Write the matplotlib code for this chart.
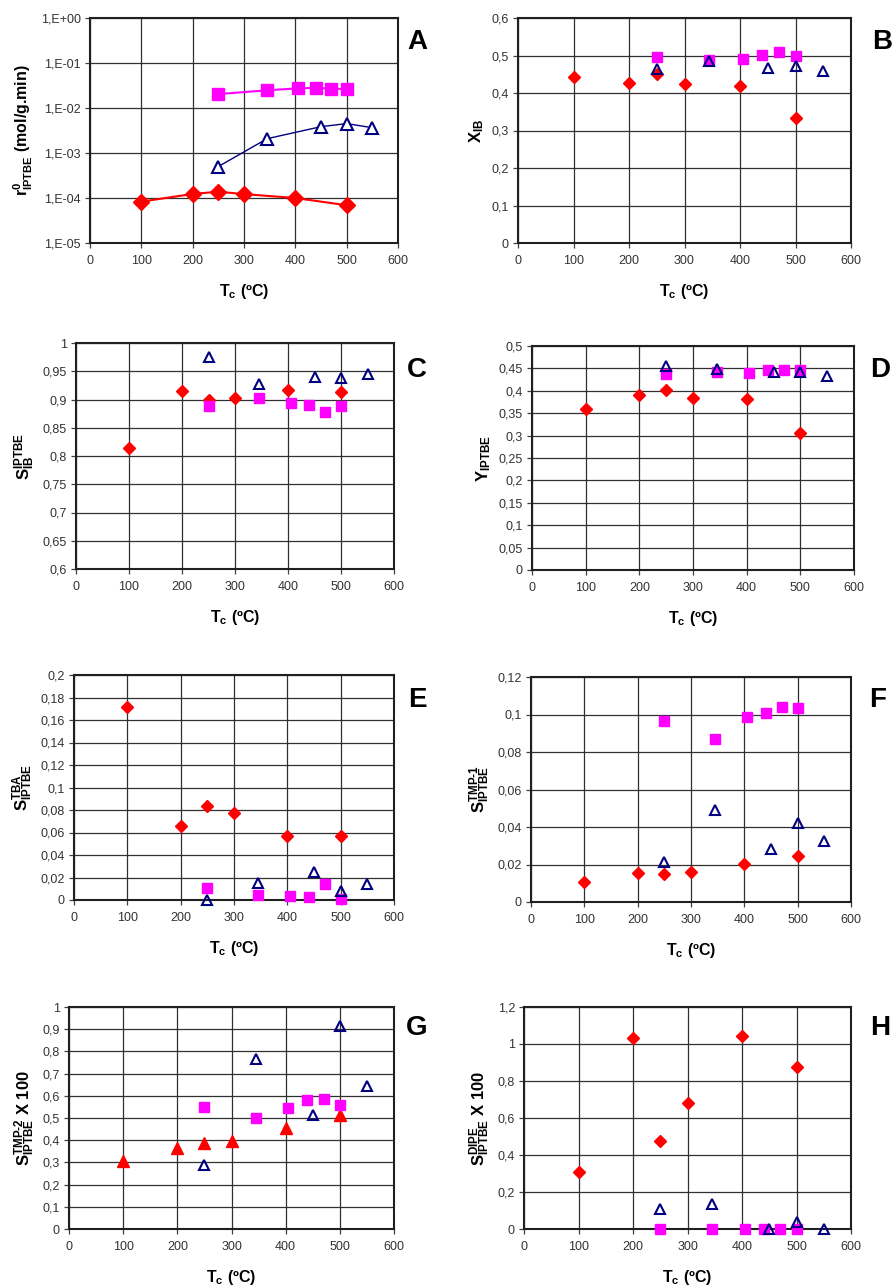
#!/usr/bin/env python3
"""Eight-panel catalyst performance figure (A-H) vs calcination temperature."""

import matplotlib
matplotlib.use('Agg')
import matplotlib.pyplot as plt
from matplotlib.ticker import FuncFormatter, NullLocator

W, H = 893, 1286

plt.rcParams['font.family'] = ['Liberation Sans', 'DejaVu Sans']
plt.rcParams['mathtext.fontset'] = 'custom'
plt.rcParams['mathtext.rm'] = 'Liberation Sans:bold'
plt.rcParams['mathtext.it'] = 'Liberation Sans:bold'
plt.rcParams['mathtext.bf'] = 'Liberation Sans:bold'
plt.rcParams['mathtext.default'] = 'rm'

RED = '#ff0000'
MAGENTA = '#ff00ff'
NAVY = '#000080'

# calcination temperatures of the three catalyst series
T_RED = [100, 200, 250, 300, 400, 500]
T_MAG = [250, 345, 405, 440, 470, 500]
T_NAVY = [250, 345, 450, 500, 550]

# A: initial rate (log scale)
A_RED = [8.3e-5, 1.23e-4, 1.38e-4, 1.22e-4, 1.0e-4, 6.9e-5]
A_MAG = [2.04e-2, 2.47e-2, 2.74e-2, 2.78e-2, 2.7e-2, 2.64e-2]
A_NAVY = [5.0e-4, 2.08e-3, 3.85e-3, 4.5e-3, 3.65e-3]
# B: IB conversion
B_RED = [0.443, 0.428, 0.450, 0.424, 0.418, 0.333]
B_MAG = [0.496, 0.489, 0.491, 0.501, 0.509, 0.500]
B_NAVY = [0.465, 0.485, 0.468, 0.471, 0.460]
# C: IPTBE selectivity
C_RED = [0.814, 0.915, 0.899, 0.903, 0.917, 0.913]
C_MAG = [0.888, 0.903, 0.894, 0.890, 0.877, 0.889]
C_NAVY = [0.975, 0.927, 0.940, 0.938, 0.945]
# D: IPTBE yield
D_RED = [0.359, 0.391, 0.402, 0.384, 0.381, 0.305]
D_MAG = [0.437, 0.441, 0.439, 0.446, 0.446, 0.446]
D_NAVY = [0.455, 0.448, 0.442, 0.443, 0.434]
# E: TBA selectivity
E_RED = [0.172, 0.066, 0.084, 0.077, 0.057, 0.057]
E_MAG = [0.0104, 0.0047, 0.0033, 0.0027, 0.0139, 0.0009]
E_NAVY = [0.0, 0.0148, 0.025, 0.0083, 0.0145]
# F: TMP-1 selectivity
F_RED = [0.0108, 0.0153, 0.0148, 0.0162, 0.0203, 0.0245]
F_MAG = [0.0964, 0.0869, 0.0985, 0.101, 0.1038, 0.1033]
F_NAVY = [0.0215, 0.0492, 0.0281, 0.042, 0.0324]
# G: TMP-2 selectivity x 100
G_RED = [0.307, 0.367, 0.389, 0.397, 0.457, 0.513]
G_MAG = [0.551, 0.501, 0.545, 0.579, 0.585, 0.558]
G_NAVY = [0.290, 0.766, 0.512, 0.915, 0.642]
# H: DIPE selectivity x 100
H_RED = [0.309, 1.035, 0.478, 0.679, 1.044, 0.878]
H_MAG = [0.0, 0.0, 0.0, 0.0, 0.0, 0.0]
H_NAVY = [0.108, 0.137, 0.0, 0.038, 0.0]

X_TICKS = [0, 100, 200, 300, 400, 500, 600]
A_YTICKS = [1e-5, 1e-4, 1e-3, 1e-2, 1e-1, 1]
A_YTICKLABELS = ['1,E-05', '1,E-04', '1,E-03', '1,E-02', '1,E-01', '1,E+00']


def px_box(l, t, r, b):
    return [l / W, 1 - b / H, (r - l) / W, (b - t) / H]


def comma_fmt(v, pos=None):
    return ('%g' % round(v, 4)).replace('.', ',')


def style_axes(ax, ylim, ystep):
    ax.set_xlim(0, 600)
    ax.set_xticks(X_TICKS)
    ax.set_ylim(*ylim)
    if ystep is not None:
        n = int(round((ylim[1] - ylim[0]) / ystep))
        ax.set_yticks([ylim[0] + i * ystep for i in range(n + 1)])
        ax.yaxis.set_major_formatter(FuncFormatter(comma_fmt))
    ax.grid(True, color='#303030', linewidth=0.9)
    ax.set_axisbelow(True)
    for s in ax.spines.values():
        s.set_color('#202020')
        s.set_linewidth(1.5)
    ax.tick_params(direction='out', length=3.5, width=0.9, color='#404040',
                   labelsize=9, labelcolor='#333333', pad=3)
    ax.tick_params(axis='x', pad=5)
    ax.set_xlabel(r'T$_{c}$ (ºC)', fontsize=11.5, fontweight='bold', labelpad=11)


def scatter3(ax, ry, my, ny, red_marker='D', red_ms=6.5, lines=False, scale=1.0):
    ls = '-' if lines else 'none'
    ax.plot(T_RED, ry, linestyle=ls, color=RED, lw=1.5, marker=red_marker,
            ms=red_ms * scale, mfc=RED, mec=RED, clip_on=False, zorder=3)
    ax.plot(T_MAG, my, linestyle=ls, color=MAGENTA, lw=1.5, marker='s',
            ms=7.5 * scale, mfc=MAGENTA, mec=MAGENTA, clip_on=False, zorder=4)
    ax.plot(T_NAVY, ny, linestyle=ls, color=NAVY, lw=1.0, marker='^',
            ms=7 * scale, mfc='white' if lines else 'none', mec=NAVY, mew=1.5,
            clip_on=False, zorder=5)


fig = plt.figure(figsize=(W / 100, H / 100), dpi=100)

# A
ax = fig.add_axes(px_box(90, 18, 398, 243))
ax.set_yscale('log')
style_axes(ax, (1e-5, 1), None)
ax.set_yticks(A_YTICKS)
ax.set_yticklabels(A_YTICKLABELS)
ax.yaxis.set_minor_locator(NullLocator())
scatter3(ax, A_RED, A_MAG, A_NAVY, lines=True, scale=1.2)
ax.set_ylabel(r'r$^{0}_{IPTBE}$ (mol/g.min)', fontsize=11.5, fontweight='bold')

# B
ax = fig.add_axes(px_box(518, 18, 851, 243))
style_axes(ax, (0, 0.6), 0.1)
scatter3(ax, B_RED, B_MAG, B_NAVY)
ax.set_ylabel(r'X$_{IB}$', fontsize=12, fontweight='bold')

# C
ax = fig.add_axes(px_box(76, 343, 394, 569))
style_axes(ax, (0.6, 1.0), 0.05)
scatter3(ax, C_RED, C_MAG, C_NAVY)
ax.set_ylabel(r'S$^{IPTBE}_{IB}$', fontsize=12, fontweight='bold')

# D
ax = fig.add_axes(px_box(532, 346, 854, 570))
style_axes(ax, (0, 0.5), 0.05)
scatter3(ax, D_RED, D_MAG, D_NAVY)
ax.set_ylabel(r'Y$_{IPTBE}$', fontsize=12, fontweight='bold')

# E
ax = fig.add_axes(px_box(74, 675, 394, 900))
style_axes(ax, (0, 0.2), 0.02)
scatter3(ax, E_RED, E_MAG, E_NAVY)
ax.set_ylabel(r'S$^{TBA}_{IPTBE}$', fontsize=12, fontweight='bold')

# F
ax = fig.add_axes(px_box(531, 677, 851, 902))
style_axes(ax, (0, 0.12), 0.02)
scatter3(ax, F_RED, F_MAG, F_NAVY)
ax.set_ylabel(r'S$^{TMP\text{-}1}_{IPTBE}$', fontsize=12, fontweight='bold')

# G
ax = fig.add_axes(px_box(69, 1007, 394, 1229))
style_axes(ax, (0, 1.0), 0.1)
scatter3(ax, G_RED, G_MAG, G_NAVY, red_marker='^', red_ms=8)
ax.set_ylabel(r'S$^{TMP\text{-}2}_{IPTBE}$ X 100', fontsize=12, fontweight='bold')

# H
ax = fig.add_axes(px_box(524, 1007, 851, 1229))
style_axes(ax, (0, 1.2), 0.2)
scatter3(ax, H_RED, H_MAG, H_NAVY)
ax.set_ylabel(r'S$^{DIPE}_{IPTBE}$ X 100', fontsize=12, fontweight='bold')

# panel letters
for letter, x, y in [('A', 417, 42), ('B', 882, 42), ('C', 417, 370),
                     ('D', 880, 370), ('E', 417, 700), ('F', 878, 700),
                     ('G', 417, 1028), ('H', 880, 1028)]:
    fig.text(x / W, 1 - y / H, letter, fontsize=20, fontweight='bold',
             ha='center', va='center')

fig.savefig('out.png', dpi=100, facecolor='white')
